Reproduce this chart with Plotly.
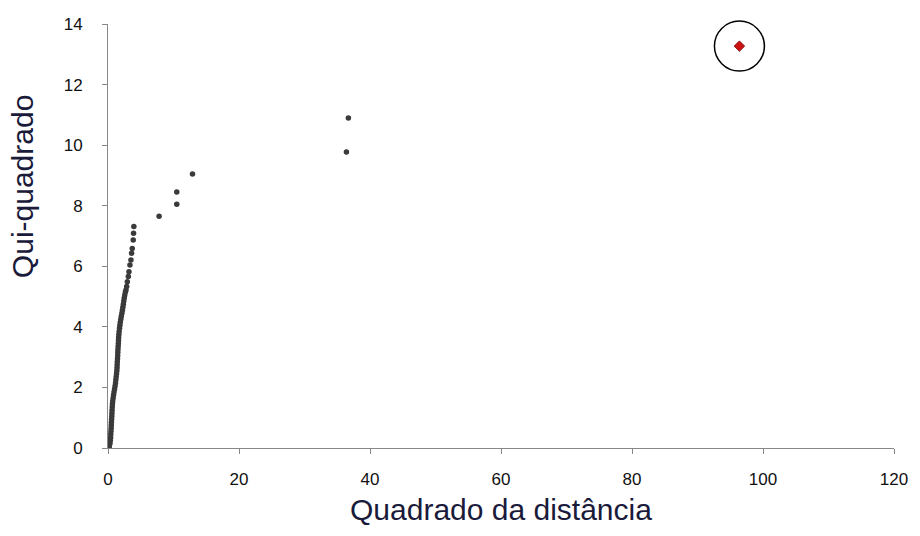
import plotly.graph_objects as go

# Dense cluster (squared distance, chi-square quantile)
cluster_x = [0.2, 0.3, 0.35, 0.4, 0.42, 0.45, 0.48, 0.5, 0.52, 0.55,
             0.58, 0.6, 0.62, 0.65, 0.68, 0.72, 0.78, 0.85, 0.92, 1.0,
             1.08, 1.15, 1.2, 1.25, 1.3, 1.35, 1.38, 1.4, 1.42, 1.45,
             1.48, 1.5, 1.52, 1.55, 1.58, 1.6, 1.62, 1.66, 1.7, 1.76,
             1.82, 1.88, 1.95, 2.03, 2.12, 2.2, 2.27, 2.34, 2.41, 2.48,
             2.56, 2.65, 2.75, 2.85, 2.95, 3.1, 3.2, 3.35, 3.5, 3.6,
             3.7, 3.85, 3.9, 3.95]
cluster_y = [0.05, 0.15, 0.25, 0.35, 0.45, 0.55, 0.65, 0.75, 0.85, 0.95,
             1.05, 1.15, 1.25, 1.35, 1.45, 1.55, 1.65, 1.75, 1.85, 1.95,
             2.05, 2.15, 2.25, 2.35, 2.45, 2.55, 2.65, 2.75, 2.85, 2.95,
             3.05, 3.15, 3.25, 3.35, 3.45, 3.55, 3.65, 3.75, 3.85, 3.95,
             4.05, 4.15, 4.25, 4.35, 4.45, 4.55, 4.65, 4.75, 4.85, 4.95,
             5.05, 5.15, 5.22, 5.33, 5.49, 5.66, 5.82, 6.04, 6.21, 6.43,
             6.59, 6.87, 7.09, 7.31]

# Isolated points
outlier_x = [7.8, 10.5, 10.5, 12.9, 36.4, 36.7]
outlier_y = [7.65, 8.05, 8.45, 9.05, 9.77, 10.9]

# Highlighted point
highlight_x = [96.4]
highlight_y = [13.27]

x_ticks = [0, 20, 40, 60, 80, 100, 120]
y_ticks = [0, 2, 4, 6, 8, 10, 12, 14]

fig = go.Figure()
fig.add_trace(go.Scatter(
    x=cluster_x + outlier_x, y=cluster_y + outlier_y, mode="markers",
    marker=dict(symbol="circle", size=5.5, color="#3a3a3a"),
    hoverinfo="x+y", showlegend=False))
fig.add_trace(go.Scatter(
    x=highlight_x, y=highlight_y, mode="markers", cliponaxis=False,
    marker=dict(symbol="circle-open", size=50, color="#000000",
                line=dict(width=1.5, color="#000000")),
    hoverinfo="skip", showlegend=False))
fig.add_trace(go.Scatter(
    x=highlight_x, y=highlight_y, mode="markers", cliponaxis=False,
    marker=dict(symbol="diamond", size=8, color="#cc1111",
                line=dict(width=1, color="#8a1010")),
    showlegend=False))

axis_common = dict(
    showgrid=False, zeroline=False, showline=True, linecolor="#888888",
    linewidth=1, ticks="outside", ticklen=5, tickcolor="#888888",
    tickfont=dict(family="Liberation Sans, Arial, sans-serif", size=17, color="#111111"),
)
fig.update_xaxes(range=[0, 120], tickvals=x_ticks, ticklabelstandoff=11, **axis_common)
fig.update_yaxes(range=[0, 14], tickvals=y_ticks, ticklabelstandoff=16, **axis_common)

title_font = dict(family="Liberation Sans, Arial, sans-serif", size=30, color="#1a1a3a")
fig.add_annotation(text="Quadrado da distância", xref="paper", yref="paper",
                   x=0.5, y=-0.146, xanchor="center", yanchor="middle",
                   showarrow=False, font=title_font)
fig.add_annotation(text="Qui-quadrado", xref="paper", yref="paper",
                   x=-0.109, y=0.616, xanchor="center", yanchor="middle",
                   textangle=-90, showarrow=False, font=title_font)

fig.update_layout(
    width=920, height=536,
    margin=dict(l=108, r=24, t=24, b=88),
    plot_bgcolor="white", paper_bgcolor="white",
)
fig.write_html("out.html", config={"displayModeBar": False},
               post_script="document.body.style.margin='0';")
